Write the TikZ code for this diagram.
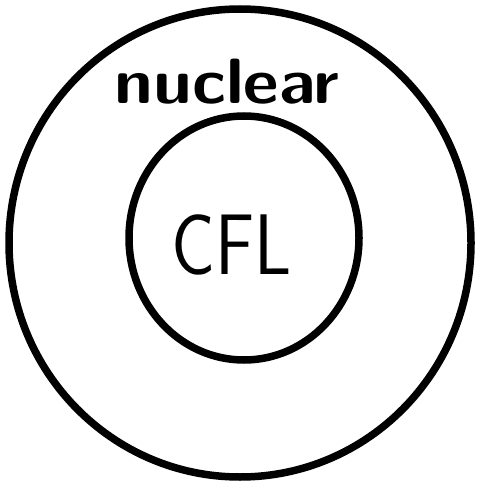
\documentclass[tikz,border=0pt]{standalone}
\usepackage{tikz}

\begin{document}
\begin{tikzpicture}[x=1pt, y=-1pt,
    ring/.style={line width=7.5pt, black},
    label/.style={inner sep=0pt, font=\sffamily\bfseries}]
    % Marc de la imatge
    \useasboundingbox (0,0) rectangle (478,484);

    % Cercle exterior (fase nuclear)
    \draw[ring] (240,243) ellipse [x radius=231, y radius=234];

    % Cercle interior (fase CFL)
    \draw[ring] (244,238) ellipse [x radius=115, y radius=122];

    % Etiquetes
    \node[label, font=\sffamily\bfseries\fontsize{64}{70}\selectfont, xscale=1.08] (nuclear) at (227,82) {nuclear};
    \node[label, font=\sffamily\fontsize{86}{92}\selectfont, xscale=0.85] (cfl) at (232,245) {CFL};

\end{tikzpicture}
\end{document}
